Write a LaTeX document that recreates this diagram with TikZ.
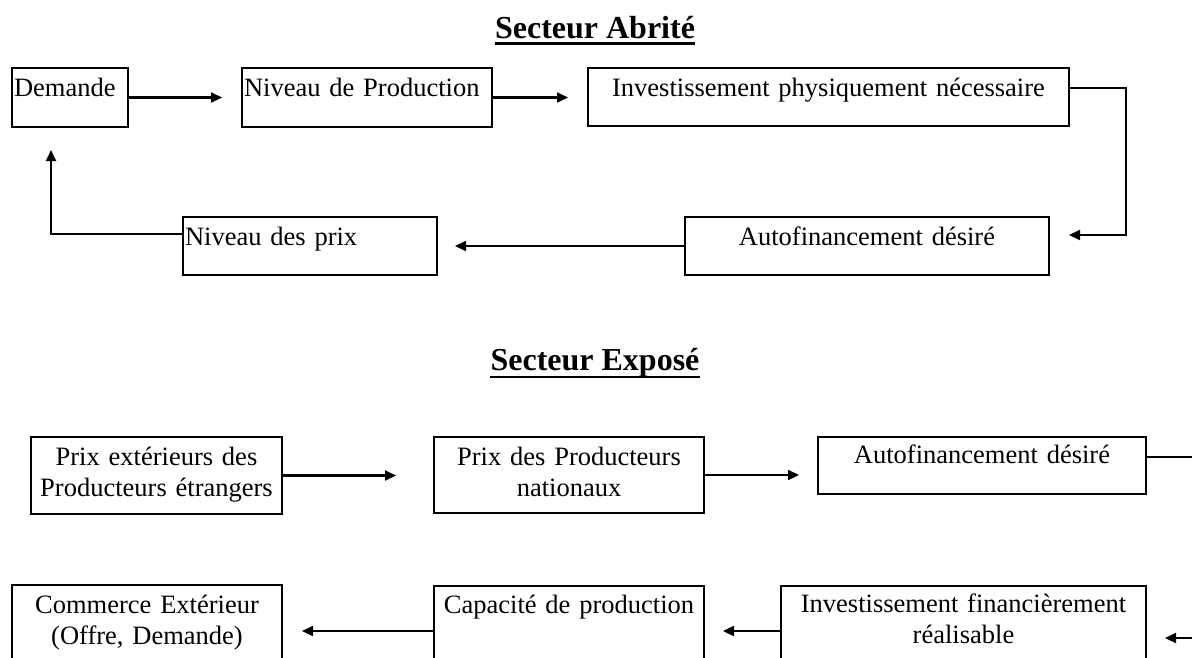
\documentclass[tikz,border=0pt]{standalone}
\usepackage{fontspec}
\setmainfont{Liberation Serif}
\usetikzlibrary{arrows.meta,calc}
\begin{document}
\begin{tikzpicture}[x=1pt,y=-1pt,
  box/.style={draw, line width=1.9pt, inner xsep=2pt, inner ysep=0pt, outer sep=0pt,
    anchor=north west, text height=28pt, font=\fontsize{26.5}{31.5}\selectfont},
  lbox/.style={box, align=left},
  cbox/.style={box, align=center},
  title/.style={font=\fontsize{32}{36}\selectfont\bfseries, inner sep=0pt, anchor=base},
  conn/.style={line width=2.1pt},
  arr/.style={conn, -{Triangle[length=11pt,width=10pt]}},
  uline/.style={line width=2.4pt}
]
\clip (0,0) rectangle (1192,657);

% ---------- Secteur Abrité ----------
\node[title] (t1) at (595,38.5) {Secteur Abrité};
\draw[uline] ([yshift=-5pt]t1.base west) -- ([yshift=-5pt]t1.base east);

\node[lbox, text width=112pt, text depth=31pt] (dem) at (12,68) {Demande};
\node[lbox, text width=246pt, text depth=31pt] (np) at (242,68) {Niveau de Production};
\node[cbox, text width=477pt, text depth=30pt] (inv) at (588,68) {Investissement physiquement nécessaire};
\node[lbox, text width=250pt, text depth=30pt] (npx) at (183,217) {Niveau des prix};
\node[cbox, text width=360pt, text depth=30pt] (af) at (685,217) {Autofinancement désiré};

\draw[arr, shorten >=20pt] (dem.east) -- (dem.east -| np.west);
\draw[arr, shorten >=20pt] (np.east) -- (np.east -| inv.west);
\draw[arr] ($(inv.north east)+(0,20)$) -| ($(af.north east)+(77,18)$) -- ($(af.north east)+(20,18)$);
\draw[arr, shorten >=18pt] (af.west) -- (af.west -| npx.east);
\draw[arr] ($(npx.north west)+(0,17)$) -| ($(dem.south west)+(39,23)$);

% ---------- Secteur Exposé ----------
\node[title] (t2) at (595,370) {Secteur Exposé};
\draw[uline] ([yshift=-7pt]t2.base west) -- ([yshift=-7pt]t2.base east);

\node[cbox, text width=247pt, text depth=49pt] (pe) at (31,437) {Prix extérieurs des\\Producteurs étrangers};
\node[cbox, text width=266pt, text depth=48pt] (pp) at (434,437) {Prix des Producteurs\\nationaux};
\node[cbox, text width=324pt, text height=26pt, text depth=31pt] (af2) at (818,437) {Autofinancement désiré};

\node[cbox, text width=266pt, text depth=52pt] (com) at (12,585) {Commerce Extérieur\\(Offre, Demande)};
\node[cbox, text width=266pt, text height=27pt, text depth=53pt] (cap) at (434,586) {Capacité de production};
\node[cbox, text width=361pt, text height=26pt, text depth=54pt] (inv2) at (781,586) {Investissement financièrement\\réalisable};

\coordinate (e1) at (1200,457);
\coordinate (e2) at (1200,638);

\draw[arr, shorten >=38pt] (pe.east) -- (pe.east -| pp.west);
\draw[arr, shorten >=19pt] (pp.east) -- (pp.east -| af2.west);
\draw[conn] (e1 -| af2.east) -- (e1);
\draw[arr, shorten >=19pt] (e2) -- (e2 -| inv2.east);
\draw[arr] ($(inv2.north west)+(0,45)$) -- ($(cap.north east)+(19,45)$);
\draw[arr] ($(cap.north west)+(0,45)$) -- ($(com.north east)+(20,46)$);
\end{tikzpicture}
\end{document}
